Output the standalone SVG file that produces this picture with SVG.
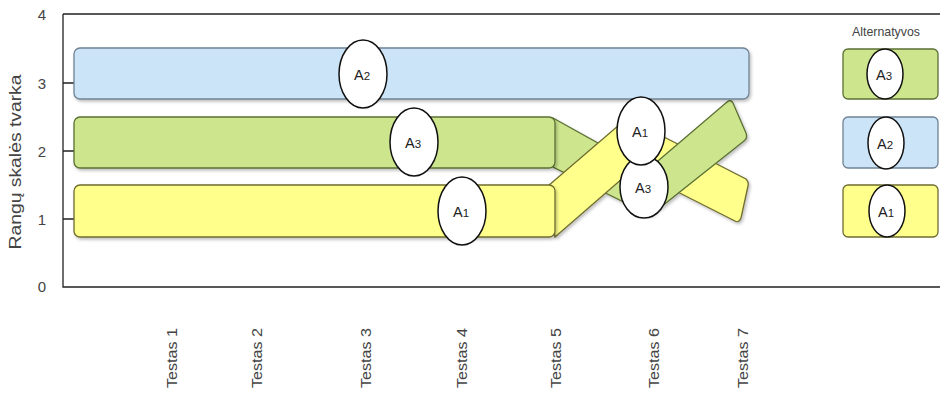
<svg xmlns="http://www.w3.org/2000/svg" width="949" height="406" viewBox="0 0 949 406">
<defs>
<filter id="sh" x="-5%" y="-10%" width="115%" height="130%">
<feDropShadow dx="1.5" dy="2" stdDeviation="1.5" flood-color="#000" flood-opacity="0.25"/>
</filter>
<style>
.ax{stroke:#222;stroke-width:1.3;fill:none}
.blue{fill:#cce4f8;stroke:#6f8294;stroke-width:1.3}
.green{fill:#cde68e;stroke:#5b7033;stroke-width:1.3}
.yellow{fill:#ffff8c;stroke:#6e6c2e;stroke-width:1.3}
.el{fill:#fff;stroke:#111;stroke-width:1.5}
.t{font-family:"Liberation Sans",Arial,sans-serif;fill:#444}
.lab{font-family:"Liberation Sans",Arial,sans-serif;fill:#222;font-size:14.5px;text-anchor:middle}
.sub{font-size:11.5px}
</style>
</defs>
<rect width="949" height="406" fill="#fff"/>
<g id="axes">
<path class="ax" d="M63,14 H940 M63,14 V287 H940 M63,83 H74 M63,151 H74 M63,219 H74"/>
<text class="t" font-size="15" x="42" y="20" text-anchor="middle">4</text>
<text class="t" font-size="15" x="42" y="89" text-anchor="middle">3</text>
<text class="t" font-size="15" x="42" y="157" text-anchor="middle">2</text>
<text class="t" font-size="15" x="42" y="225" text-anchor="middle">1</text>
<text class="t" font-size="15" x="42" y="292" text-anchor="middle">0</text>
<text class="t" font-size="16" transform="translate(21,162) rotate(-90)" text-anchor="middle" textLength="175" lengthAdjust="spacingAndGlyphs">Rangų skalės tvarka</text>
<text class="t" font-size="15.5" transform="translate(177,388) rotate(-90)" textLength="60" lengthAdjust="spacingAndGlyphs">Testas 1</text>
<text class="t" font-size="15.5" transform="translate(262,388) rotate(-90)" textLength="60" lengthAdjust="spacingAndGlyphs">Testas 2</text>
<text class="t" font-size="15.5" transform="translate(371,388) rotate(-90)" textLength="60" lengthAdjust="spacingAndGlyphs">Testas 3</text>
<text class="t" font-size="15.5" transform="translate(467,388) rotate(-90)" textLength="60" lengthAdjust="spacingAndGlyphs">Testas 4</text>
<text class="t" font-size="15.5" transform="translate(561,388) rotate(-90)" textLength="60" lengthAdjust="spacingAndGlyphs">Testas 5</text>
<text class="t" font-size="15.5" transform="translate(659,388) rotate(-90)" textLength="60" lengthAdjust="spacingAndGlyphs">Testas 6</text>
<text class="t" font-size="15.5" transform="translate(748,388) rotate(-90)" textLength="60" lengthAdjust="spacingAndGlyphs">Testas 7</text>
</g>
<g id="connectors" filter="url(#sh)">
<path class="yellow" d="M660,135 L746,179 Q749,182 748,186 L741,218 Q739,223 735,221 L650,178 Z"/>
<path class="green" d="M553,118 L650,172 L650,215 L553,167 Z"/>
<path class="yellow" d="M548,186 L640,107 L646,158 L555,237 Z"/>
<path class="green" d="M645,172 L727,102 Q731,99 733,103 L746,133 Q748,138 744,141 L652,214 Z"/>
</g>
<g id="A2-bar">
<rect class="blue" x="74" y="48" width="675" height="51" rx="6" filter="url(#sh)"/>
</g>
<g id="A3-bar">
<rect class="green" x="74" y="117" width="481" height="51" rx="6" filter="url(#sh)"/>
</g>
<g id="A1-bar">
<rect class="yellow" x="74" y="185" width="481" height="52" rx="6" filter="url(#sh)"/>
</g>
<g id="A2-t3">
<ellipse class="el" cx="363" cy="74" rx="24" ry="34"/>
<text class="lab" x="362" y="80">A<tspan class="sub">2</tspan></text>
</g>
<g id="A3-t4">
<ellipse class="el" cx="414" cy="142" rx="24" ry="34"/>
<text class="lab" x="413" y="148">A<tspan class="sub">3</tspan></text>
</g>
<g id="A1-t5">
<ellipse class="el" cx="462" cy="211" rx="24" ry="34"/>
<text class="lab" x="461" y="217">A<tspan class="sub">1</tspan></text>
</g>
<g id="A3-t6">
<ellipse class="el" cx="644" cy="187" rx="24" ry="31"/>
<text class="lab" x="643" y="193">A<tspan class="sub">3</tspan></text>
</g>
<g id="A1-t6">
<ellipse class="el" cx="641" cy="131" rx="24" ry="34"/>
<text class="lab" x="640" y="137">A<tspan class="sub">1</tspan></text>
</g>
<g id="legend">
<text class="t" font-size="13" x="886" y="36" text-anchor="middle" textLength="68" lengthAdjust="spacingAndGlyphs" fill="#222">Alternatyvos</text>
</g>
<g id="legend-A3">
<rect class="green" x="843" y="49" width="95" height="50" rx="5"/>
<ellipse class="el" cx="885" cy="74" rx="18" ry="25"/>
<text class="lab" x="884" y="80">A<tspan class="sub">3</tspan></text>
</g>
<g id="legend-A2">
<rect class="blue" x="843" y="117" width="95" height="51" rx="5"/>
<ellipse class="el" cx="886" cy="143" rx="18" ry="26"/>
<text class="lab" x="885" y="149">A<tspan class="sub">2</tspan></text>
</g>
<g id="legend-A1">
<rect class="yellow" x="843" y="185" width="95" height="52" rx="5"/>
<ellipse class="el" cx="887" cy="211" rx="18" ry="26"/>
<text class="lab" x="886" y="217">A<tspan class="sub">1</tspan></text>
</g>
</svg>
